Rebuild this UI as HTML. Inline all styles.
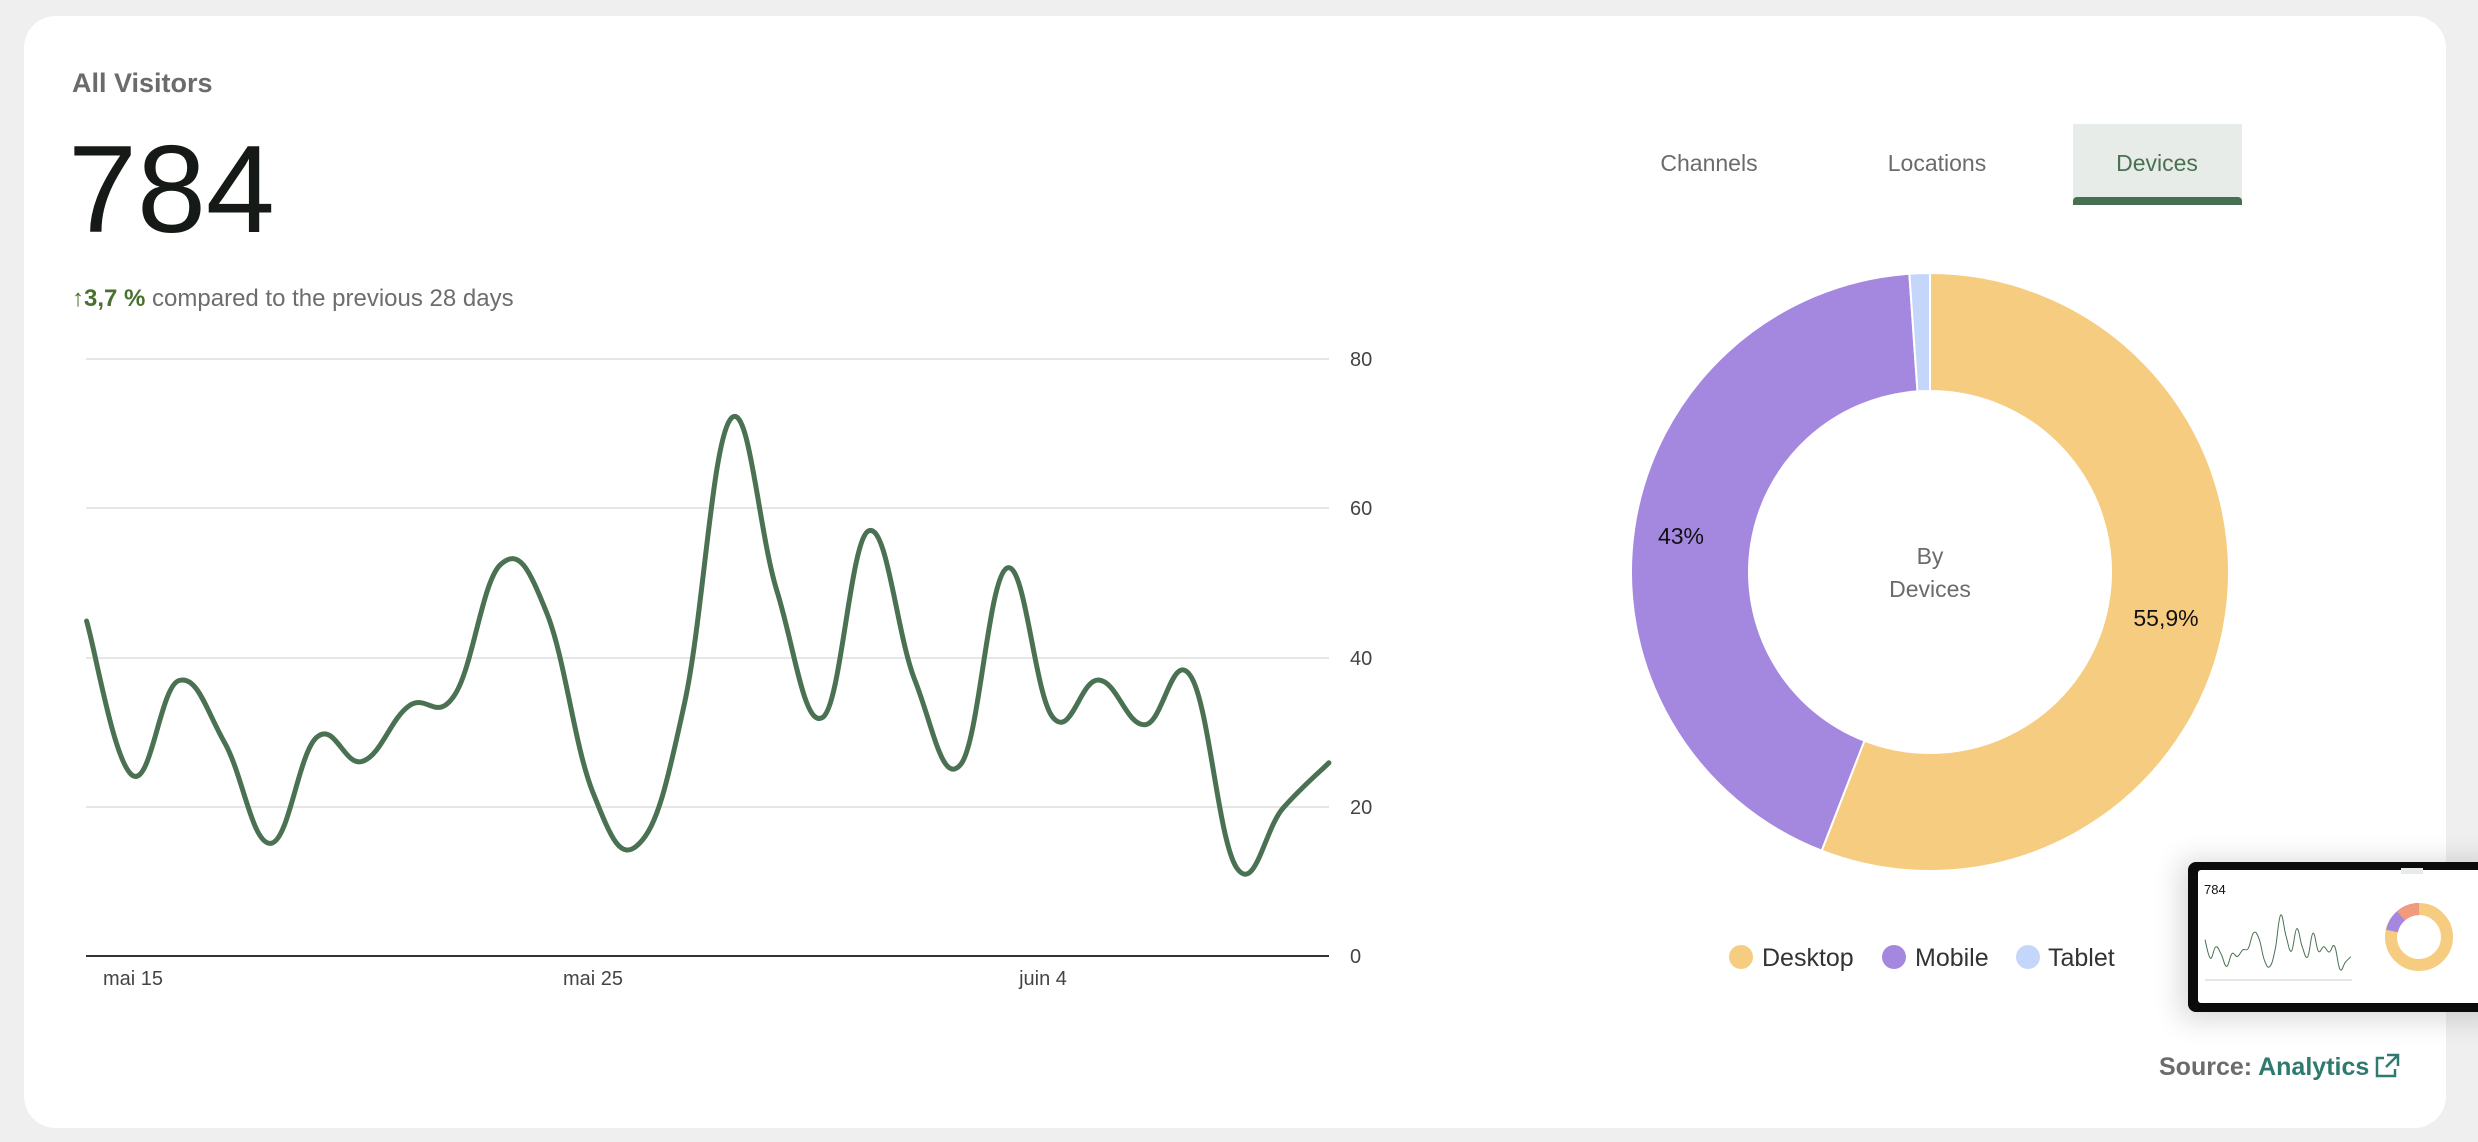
<!DOCTYPE html>
<html><head><meta charset="utf-8">
<style>
html,body{margin:0;padding:0;width:2478px;height:1142px;background:#efefef;overflow:hidden;font-family:"Liberation Sans",sans-serif;}
.card{position:absolute;left:24px;top:16px;width:2422px;height:1112px;background:#fff;border-radius:32px;}
.t{position:absolute;white-space:nowrap;}
</style></head><body>
<div class="card"></div>
<div class="t" style="left:72px;top:68px;font-size:27px;font-weight:bold;color:#6b6b6b;">All Visitors</div>
<div class="t" style="left:68px;top:120px;font-size:124px;color:#161a17;line-height:140px;">784</div>
<div class="t" style="left:72px;top:285px;font-size:24px;color:#6b6e6c;"><span style="color:#4a7030;font-weight:bold;">↑3,7 %</span> compared to the previous 28 days</div>

<svg style="position:absolute;left:0;top:0" width="2478" height="1142">
<g stroke="#e6e6e6" stroke-width="2">
<line x1="86" y1="359" x2="1329" y2="359"/><line x1="86" y1="508" x2="1329" y2="508"/>
<line x1="86" y1="658" x2="1329" y2="658"/><line x1="86" y1="807" x2="1329" y2="807"/>
</g>
<line x1="86" y1="956" x2="1329" y2="956" stroke="#333" stroke-width="2"/>
<g font-family="Liberation Sans" font-size="20" fill="#444">
<text x="1350" y="366">80</text><text x="1350" y="515">60</text><text x="1350" y="665">40</text><text x="1350" y="814">20</text><text x="1350" y="963">0</text>
<text x="133" y="985" text-anchor="middle">mai 15</text><text x="593" y="985" text-anchor="middle">mai 25</text><text x="1043" y="985" text-anchor="middle">juin 4</text>
</g>
<path id="line" fill="none" stroke="#4a7152" stroke-width="5" stroke-linejoin="round" stroke-linecap="round"/>

<!-- donut -->
<g id="donut"></g>
<g font-family="Liberation Sans" font-size="23" fill="#111">
<text x="2166" y="626" text-anchor="middle">55,9%</text>
<text x="1681" y="544" text-anchor="middle">43%</text>
</g>
<g font-family="Liberation Sans" font-size="23" fill="#6b6b6b" text-anchor="middle">
<text x="1930" y="564">By</text><text x="1930" y="597">Devices</text>
</g>
<!-- tabs -->
<rect x="2073" y="124" width="169" height="80" fill="#e7ece8"/>
<rect x="2073" y="197" width="169" height="8" rx="4" fill="#476f51"/>
<rect x="2073" y="201" width="169" height="4" fill="#476f51"/>
<g font-family="Liberation Sans" font-size="23" text-anchor="middle">
<text x="1709" y="171" fill="#6b6b6b">Channels</text>
<text x="1937" y="171" fill="#6b6b6b">Locations</text>
<text x="2157" y="171" fill="#4a7152">Devices</text>
</g>
<!-- legend -->
<circle cx="1741" cy="957" r="12" fill="#f6cd80"/>
<circle cx="1894" cy="957" r="12" fill="#a488e0"/>
<circle cx="2028" cy="957" r="12" fill="#c5d6fb"/>
<g font-family="Liberation Sans" font-size="25" fill="#333">
<text x="1762" y="966">Desktop</text><text x="1915" y="966">Mobile</text><text x="2048" y="966">Tablet</text>
</g>
<text x="2159" y="1075" font-family="Liberation Sans" font-size="25" font-weight="bold" fill="#6b6b6b">Source: <tspan fill="#2e7a6e">Analytics</tspan></text>
<g stroke="#2e7a6e" stroke-width="2.5" fill="none">
<path d="M2384 1058 h-7 v18 h18 v-7"/><path d="M2387 1055 h11 v11 M2398 1055 l-12 12"/>
</g>

<!-- thumbnail -->
<defs><filter id="sh" x="-20%" y="-40%" width="140%" height="180%"><feGaussianBlur stdDeviation="14"/></filter></defs>
<rect x="2180" y="860" width="320" height="160" rx="10" fill="#000" opacity="0.15" filter="url(#sh)"/>
<rect x="2188" y="862" width="300" height="150" rx="8" fill="#0b0b0b"/>
<rect x="2198" y="870" width="290" height="133" rx="3" fill="#fff"/>
<text x="2204" y="894" font-family="Liberation Sans" font-size="13" fill="#111">784</text>
<line x1="2205" y1="980" x2="2352" y2="980" stroke="#ccc" stroke-width="1"/>
<path id="mini" fill="none" stroke="#4a7152" stroke-width="1"/>
<circle cx="2419" cy="937" r="28" fill="none" stroke="#f6cd80" stroke-width="12"/>
<path d="M2419 909 a28 28 0 0 0 -27 22" fill="none" stroke="#a488e0" stroke-width="12"/>
<path d="M2419 909 a28 28 0 0 0 -18 7" fill="none" stroke="#f19a7c" stroke-width="12"/>
<rect x="2401" y="868" width="22" height="6" fill="#e7ece8"/>
</svg>
<script>
var v=[44.9,24.2,36.9,28.6,15.1,29.3,26.1,33.5,35,52.5,46,22,15,34,72,49,32,57,37,25.7,52,32,37,31,37.5,11.8,19.8,25.9];
function pathOf(v,x0,dx,y0,sy){var p=v.map(function(a,i){return [x0+i*dx,y0-a*sy];});
var d="M"+p[0][0]+" "+p[0][1];var t=0.4;
for(var i=0;i<p.length-1;i++){var a=p[i-1]||p[i],b=p[i],c=p[i+1],e=p[i+2]||c;
var c1=[b[0]+(c[0]-a[0])*t/2,b[1]+(c[1]-a[1])*t/2],c2=[c[0]-(e[0]-b[0])*t/2,c[1]-(e[1]-b[1])*t/2];
d+=" C"+c1[0].toFixed(1)+" "+c1[1].toFixed(1)+" "+c2[0].toFixed(1)+" "+c2[1].toFixed(1)+" "+c[0].toFixed(1)+" "+c[1].toFixed(1);}
return d;}
document.getElementById("line").setAttribute("d",pathOf(v,86.6,46.01,956,7.46));
document.getElementById("mini").setAttribute("d",pathOf(v,2205,5.4,980,0.9));
var cx=1930,cy=572,R=299,r=181,g=document.getElementById("donut");
var sl=[[55.9,"#f6cd80"],[43,"#a488e0"],[1.1,"#c5d6fb"]],s=0;
sl.forEach(function(q){var a0=s/100*2*Math.PI,a1=(s+q[0])/100*2*Math.PI;s+=q[0];
function pt(rad,a){return [cx+rad*Math.sin(a),cy-rad*Math.cos(a)];}
var p1=pt(R,a0),p2=pt(R,a1),p3=pt(r,a1),p4=pt(r,a0),lg=(a1-a0)>Math.PI?1:0;
var el=document.createElementNS("http://www.w3.org/2000/svg","path");
el.setAttribute("d","M"+p1+" A"+R+" "+R+" 0 "+lg+" 1 "+p2+" L"+p3+" A"+r+" "+r+" 0 "+lg+" 0 "+p4+"Z");
el.setAttribute("fill",q[1]);el.setAttribute("stroke","#fff");el.setAttribute("stroke-width","2");g.appendChild(el);});
</script>
</body></html>
